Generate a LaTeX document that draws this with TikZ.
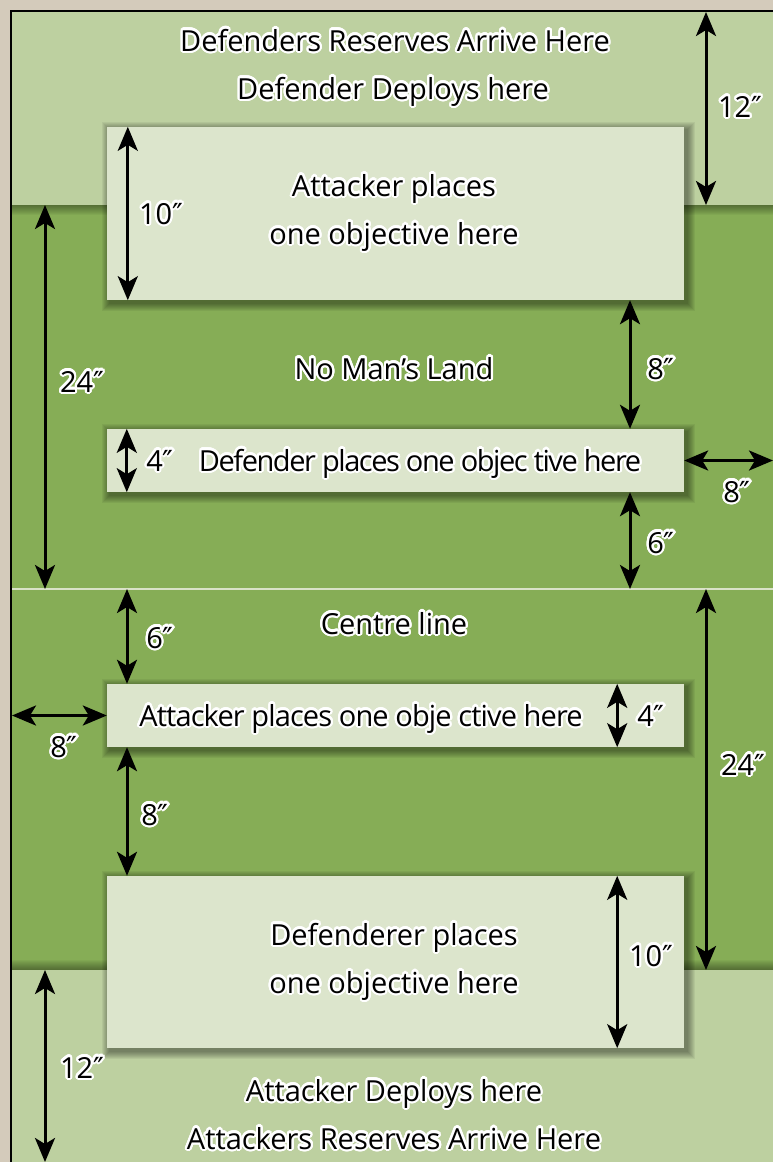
\documentclass[tikz,border=0pt]{standalone}
\usepackage{fontspec}
\setmainfont{Open Sans}
\newfontfamily\djv{DejaVu Sans}
\usepackage{contour}
\contourlength{2.2pt}
\contournumber{24}
\usetikzlibrary{arrows.meta,calc}
\definecolor{parch}{HTML}{D4CBBB}
\definecolor{lightzone}{HTML}{BDD0A0}
\definecolor{darkzone}{HTML}{86AD56}
\definecolor{boxfill}{HTML}{DCE5CC}
\definecolor{cline}{HTML}{D9E2C8}
\tikzset{
 dim/.style={line width=3pt, {Stealth[length=24pt,width=20pt,inset=6pt]}-{Stealth[length=24pt,width=20pt,inset=6pt]}},
 lbl/.style={font=\fontsize{29}{30}\selectfont, inner sep=0pt, anchor=base},
 objbox/.style={fill=boxfill, draw=none, inner sep=0pt, minimum width=577pt},
}
\newcommand\halo[1]{\contour{white}{#1}}
\newcommand\inch{{\djv ″}}
\newcommand\softshadow[4]{%
  \foreach \i in {1,...,8}{%
    \fill[black,opacity=0.055] ({#1+3-9+\i},{#2+3-9+\i}) rectangle ({#3+3+9-\i},{#4+3+9-\i});
  }%
}
\begin{document}
\begin{tikzpicture}[x=1pt,y=-1pt]
\useasboundingbox (0,0) rectangle (773,1162);
\fill[parch] (0,0) rectangle (773,1162);
% zones
\fill[lightzone] (12,12) rectangle (773,205);
\fill[darkzone] (12,205) rectangle (773,970);
\fill[lightzone] (12,970) rectangle (773,1162);
\foreach \i in {0,...,9}{\fill[black,opacity=0.04] (12,205) rectangle (773,{205+\i+1});}
\foreach \i in {0,...,9}{\fill[black,opacity=0.04] (12,{970-\i-1}) rectangle (773,970);}
\coordinate (boardtop) at (12,12);
\coordinate (zonetop) at (12,205);
\coordinate (centre) at (12,589);
\coordinate (zonebot) at (12,970);
\coordinate (boardbot) at (12,1162);
\coordinate (boardright) at (773,463);
\coordinate (boardleft) at (12,717);
% centre line
\draw[cline, line width=2pt] (centre) -- (773,589);
% boxes
\softshadow{107}{127}{684}{300}
\softshadow{107}{429}{684}{492}
\softshadow{107}{684}{684}{747}
\softshadow{107}{876}{684}{1048}
\node[objbox, minimum height=173pt] (b1) at (395.5,213.5) {};
\node[objbox, minimum height=63pt] (b2) at (395.5,460.5) {};
\node[objbox, minimum height=63pt] (b3) at (395.5,715.5) {};
\node[objbox, minimum height=172pt] (b4) at (395.5,962) {};
% border
\draw[black, line width=2.5pt] (11,1162) -- (11,11) -- (773,11);
% dimension arrows
\draw[dim] (boardtop -| 706,0) -- (zonetop -| 706,0);
\draw[dim] ([xshift=21pt]b1.north west) -- ([xshift=21pt]b1.south west);
\draw[dim] (zonetop -| 45,0) -- (centre -| 45,0);
\draw[dim] (b1.south -| 630,0) -- (b2.north -| 630,0);
\draw[dim] ([xshift=20pt]b2.north west) -- ([xshift=20pt]b2.south west);
\draw[dim] (b2.east) -- (b2.east -| boardright);
\draw[dim] (b2.south -| 630,0) -- (centre -| 630,0);
\draw[dim] (centre -| 127,0) -- (b3.north -| 127,0);
\draw[dim] (b3.west -| boardleft) -- (b3.west);
\draw[dim] ([xshift=-67pt]b3.north east) -- ([xshift=-67pt]b3.south east);
\draw[dim] (b3.south -| 127,0) -- (b4.north -| 127,0);
\draw[dim] (centre -| 706,0) -- (zonebot -| 706,0);
\draw[dim] ([xshift=-67pt]b4.north east) -- ([xshift=-67pt]b4.south east);
\draw[dim] (zonebot -| 45,0) -- (boardbot -| 45,0);
% texts
\node[lbl] (t1) at (395,51) {\halo{Defenders Reserves Arrive Here}};
\node[lbl] (t2) at (393,99) {\halo{Defender Deploys here}};
\node[lbl] (t3) at (394,196) {\halo{Attacker places}};
\node[lbl] (t4) at (394,244) {\halo{one objective here}};
\node[lbl] (t5) at (394,379) {\halo{No Man’s Land}};
\node[lbl] (t6) at (420,471) {\addfontfeatures{LetterSpace=-5}\halo{Defender places one objec tive here}};
\node[lbl] (t7) at (394,634) {\halo{Centre line}};
\node[lbl] (t8) at (361,726) {\addfontfeatures{LetterSpace=-3}\halo{Attacker places one obje ctive here}};
\node[lbl] (t9) at (394,945) {\halo{Defenderer places}};
\node[lbl] (t10) at (394,993) {\halo{one objective here}};
\node[lbl] (t11) at (394,1101) {\halo{Attacker Deploys here}};
\node[lbl] (t12) at (394,1149) {\halo{Attackers Reserves Arrive Here}};
% labels
\node[lbl] (l1) at (740,117) {\halo{12\inch}};
\node[lbl] (l2) at (161,224) {\halo{10\inch}};
\node[lbl] (l3) at (82,392) {\halo{24\inch}};
\node[lbl] (l4) at (661,379) {\halo{8\inch}};
\node[lbl] (l5) at (160,471) {\halo{4\inch}};
\node[lbl] (l6) at (737,502) {\halo{8\inch}};
\node[lbl] (l7) at (661,553) {\halo{6\inch}};
\node[lbl] (l8) at (160,648) {\halo{6\inch}};
\node[lbl] (l9) at (64,757) {\halo{8\inch}};
\node[lbl] (l10) at (651,726) {\halo{4\inch}};
\node[lbl] (l11) at (155,825) {\halo{8\inch}};
\node[lbl] (l12) at (743,775) {\halo{24\inch}};
\node[lbl] (l13) at (651,966) {\halo{10\inch}};
\node[lbl] (l14) at (82,1078) {\halo{12\inch}};
\end{tikzpicture}
\end{document}
